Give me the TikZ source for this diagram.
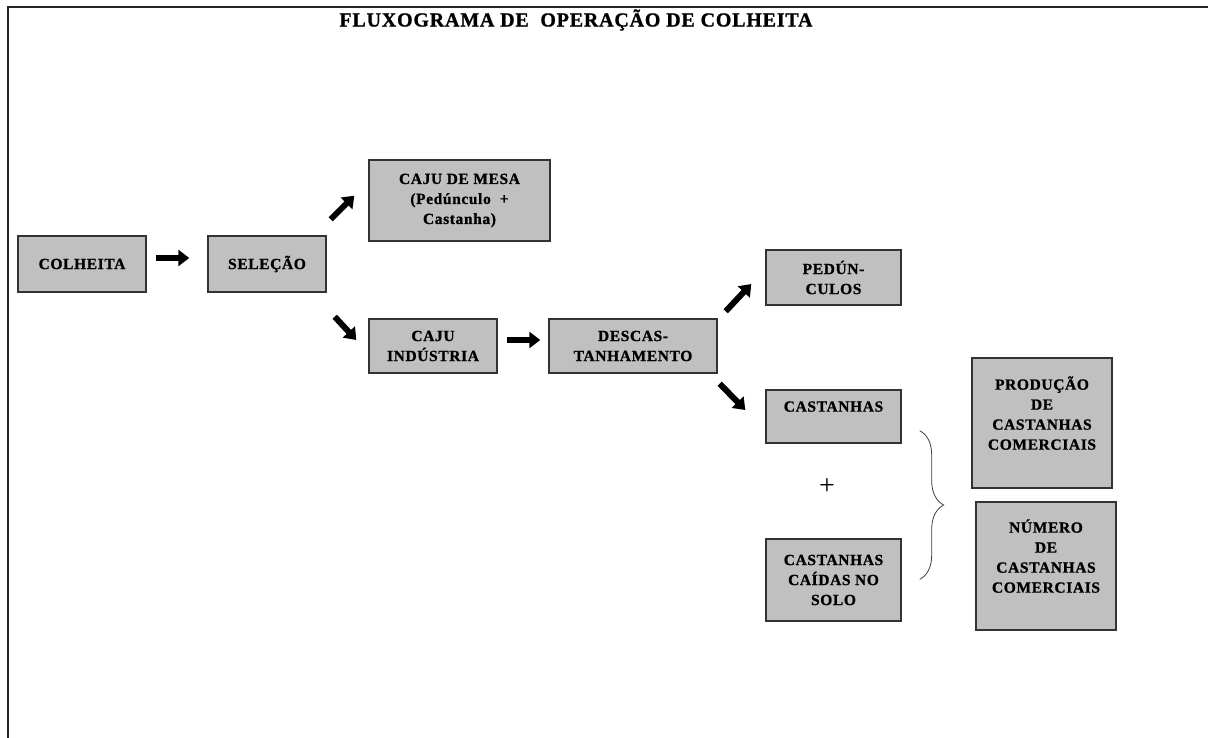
\documentclass[tikz,border=0pt]{standalone}
\usepackage{fontspec}
\setmainfont{Liberation Serif}
\newfontfamily\boxfont{Liberation Serif}[LetterSpace=4, BoldFeatures={FakeBold=1}]
\usepackage{tikz}
\usetikzlibrary{arrows.meta, positioning, decorations.pathreplacing, calc}

\definecolor{boxgray}{RGB}{192,192,192}

\begin{document}
\begin{tikzpicture}[
  x=1pt, y=-1pt,
  box/.style={draw=black!80, line width=1.4pt, rectangle, fill=boxgray, align=center, inner sep=2pt, font=\boxfont\fontsize{15.5}{20}\selectfont\bfseries},
  fat/.style={line width=6pt, -{Triangle[length=11pt, width=16pt]}},
  brace/.style={decorate, decoration={brace, amplitude=24pt}, line width=0.8pt, black!75}
]
\useasboundingbox (0,0) rectangle (1208,738);

% Frame
\draw[line width=2pt, black!85] (8,738) -- (8,7) -- (1208,7);

% Title
\node[font=\boxfont\fontsize{20}{22}\selectfont\bfseries] (title) at (576,20) {FLUXOGRAMA DE \ OPERAÇÃO DE COLHEITA};

% Nodes (main chain)
\node[box, minimum width=128pt, minimum height=56pt] (colheita) at (82,264) {COLHEITA};
\node[box, minimum width=118pt, minimum height=56pt] (selecao) at (267,264) {SELEÇÃO};
\node[box, minimum width=181pt, minimum height=81pt] (mesa) at (459.5,200.5) {CAJU DE MESA\\(Pedúnculo \ +\\Castanha)};
\node[box, minimum width=128pt, minimum height=54pt] (industria) at (433,346) {CAJU\\INDÚSTRIA};
\node[box, minimum width=168pt, minimum height=54pt] (descas) at (633,346) {DESCAS-\\TANHAMENTO};
\node[box, minimum width=135pt, minimum height=55pt] (pedunc) at (833.5,277.5) {PEDÚN-\\CULOS};
\node[box, minimum width=135pt, minimum height=53pt] (castanhas) at (833.5,416.5) {CASTANHAS\\~};
\node[box, minimum width=135pt, minimum height=82pt] (caidas) at (833.5,580) {CASTANHAS\\CAÍDAS NO\\SOLO};

% Results
\node[box, minimum width=140pt, minimum height=130pt] (producao) at (1042,423) {PRODUÇÃO\\DE\\CASTANHAS\\COMERCIAIS\\~};
\node[box, minimum width=140pt, minimum height=128pt] (numero) at (1046,566) {NÚMERO\\DE\\CASTANHAS\\COMERCIAIS\\~};

% Sum of both
\node[font=\fontsize{28}{28}\selectfont] (plus) at (827,487) {+};
\draw[brace] ([shift={(18,-13)}]castanhas.south east) -- ([shift={(18,41)}]caidas.north east);

% Arrows
\draw[fat] ([shift={(9,-6)}]colheita.east) -- ([shift={(-18,-6)}]selecao.west);
\draw[fat] ([shift={(4,-16)}]selecao.north east) -- ([shift={(-14,-46)}]mesa.south west);
\draw[fat] ([shift={(8,24)}]selecao.south east) -- ([shift={(-12,-6)}]industria.west);
\draw[fat] ([shift={(9,-6)}]industria.east) -- ([shift={(-8,-6)}]descas.west);
\draw[fat] ([shift={(8,-7)}]descas.north east) -- ([shift={(-14,6.5)}]pedunc.west);
\draw[fat] ([shift={(2,10)}]descas.south east) -- ([shift={(-20,-6.5)}]castanhas.west);

\end{tikzpicture}
\end{document}
